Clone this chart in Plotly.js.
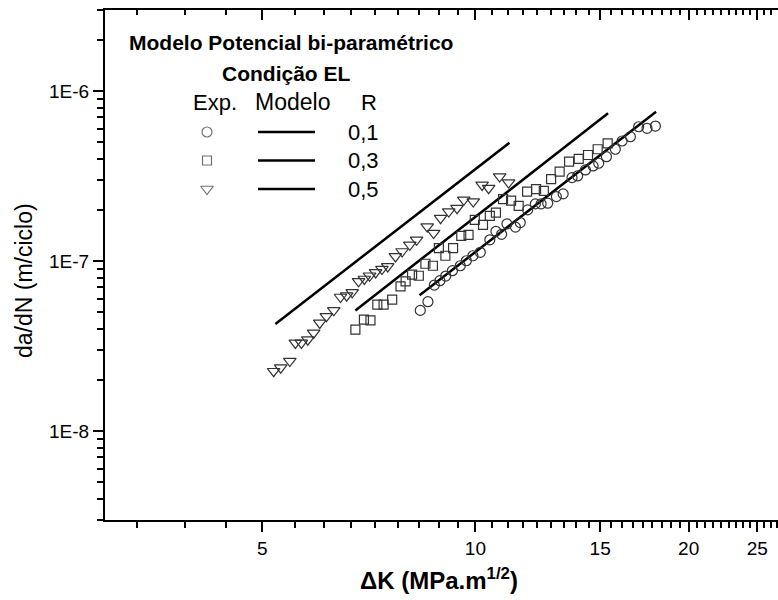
<!DOCTYPE html>
<html><head><meta charset="utf-8">
<script src="https://cdn.plot.ly/plotly-3.0.1.min.js"></script>
<style>html,body{margin:0;padding:0;background:#fff}#chart{width:778px;height:600px}</style>
</head><body><div id="chart"></div>
<script>
// ---------- data ----------
const r01_dK   = [8.36, 8.57, 8.75, 8.91, 9.08, 9.28, 9.52, 9.71, 9.92, 10.16, 10.48, 10.69, 10.89, 11.08, 11.39, 11.57, 11.85, 12.15, 12.38, 12.65, 13.01, 13.30, 13.69, 13.94, 14.30, 14.66, 14.93, 15.31, 15.76, 16.11, 16.55, 17.00, 17.47, 17.95];
const r01_dadN = [5.13e-8, 5.77e-8, 7.23e-8, 7.67e-8, 8.17e-8, 8.78e-8, 9.39e-8, 1.005e-7, 1.075e-7, 1.127e-7, 1.335e-7, 1.497e-7, 1.438e-7, 1.656e-7, 1.585e-7, 1.686e-7, 2.001e-7, 2.171e-7, 2.171e-7, 2.192e-7, 2.396e-7, 2.485e-7, 3.097e-7, 3.170e-7, 3.437e-7, 3.628e-7, 3.764e-7, 4.115e-7, 4.55e-7, 5.087e-7, 5.391e-7, 6.17e-7, 6.04e-7, 6.23e-7];

const r03_dK   = [6.77, 6.96, 7.11, 7.27, 7.42, 7.63, 7.84, 7.97, 8.14, 8.32, 8.50, 8.71, 8.88, 9.07, 9.30, 9.55, 9.78, 9.98, 10.25, 10.48, 10.69, 10.94, 11.23, 11.51, 11.83, 12.18, 12.49, 12.79, 13.15, 13.56, 13.99, 14.42, 14.88, 15.37];
const r03_dadN = [3.95e-8, 4.53e-8, 4.48e-8, 5.54e-8, 5.54e-8, 5.93e-8, 7.10e-8, 7.60e-8, 8.32e-8, 8.20e-8, 9.65e-8, 9.39e-8, 1.193e-7, 1.075e-7, 1.193e-7, 1.409e-7, 1.428e-7, 1.748e-7, 1.634e-7, 1.846e-7, 1.930e-7, 2.314e-7, 2.270e-7, 2.113e-7, 2.564e-7, 2.649e-7, 2.588e-7, 3.032e-7, 3.359e-7, 3.846e-7, 3.99e-7, 4.21e-7, 4.55e-7, 4.93e-7];

const r05_dK   = [5.19, 5.31, 5.47, 5.57, 5.68, 5.80, 5.91, 6.03, 6.16, 6.31, 6.45, 6.58, 6.70, 6.84, 6.97, 7.09, 7.23, 7.38, 7.52, 7.71, 7.88, 8.08, 8.26, 8.55, 8.73, 8.93, 9.17, 9.42, 9.63, 9.93, 10.22, 10.44, 10.82, 11.14];
const r05_dadN = [2.25e-8, 2.36e-8, 2.58e-8, 3.30e-8, 3.30e-8, 3.45e-8, 3.78e-8, 4.33e-8, 4.73e-8, 5.13e-8, 6.15e-8, 6.26e-8, 6.55e-8, 7.60e-8, 7.85e-8, 8.20e-8, 8.58e-8, 8.98e-8, 9.30e-8, 1.065e-7, 1.139e-7, 1.247e-7, 1.335e-7, 1.597e-7, 1.461e-7, 1.789e-7, 1.956e-7, 2.048e-7, 2.292e-7, 2.240e-7, 2.806e-7, 2.684e-7, 3.14e-7, 2.895e-7];

// model lines (power law, end points)
const model01_dK = [8.34, 17.99];  const model01_dadN = [6.29e-8, 7.56e-7];
const model03_dK = [6.77, 15.39];  const model03_dadN = [5.13e-8, 7.40e-7];
const model05_dK = [5.22, 11.17];  const model05_dadN = [4.27e-8, 4.97e-7];

const xTickVals = [5, 10, 15, 20, 25];
const xTickText = ['5', '10', '15', '20', '25'];
const yTickVals = [1e-8, 1e-7, 1e-6];
const yTickText = ['1E-8', '1E-7', '1E-6'];

const legendTitle1 = 'Modelo Potencial bi-paramétrico';
const legendTitle2 = 'Condição EL';
const legendHeads = ['Exp.', 'Modelo', 'R'];
const legendR = ['0,1', '0,3', '0,5'];
const legendSymbols = ['circle-open', 'square-open', 'triangle-down-open'];
const legendSizes = [10, 9, 11];

// ---------- layout geometry ----------
const W = 778, H = 600, ML = 105, MR = 0, MT = 10, MB = 80;
const PW = W - ML - MR, PH = H - MT - MB;
const px = v => (v - ML) / PW;
const py = v => (H - MB - v) / PH;
const FONT = 'Liberation Sans, Arial, Helvetica, sans-serif';
const xMin = 3, xMax = 26.74, yMin = 3e-9, yMax = 3e-6;
const xRange = [Math.log10(xMin), Math.log10(xMax)];
const yRange = [Math.log10(yMin), Math.log10(yMax)];

// minor ticks (Origin style: 8 linear minors between majors of step 5)
const xMinor = [];
for (let k = 0; k < 6; k++) for (let j = 1; j <= 8; j++) {
  const v = 5 * k + 5 * j / 9;
  if (v >= xMin && v <= xMax) xMinor.push(v);
}
const yMinor = [];
for (let e = -9; e <= -6; e++) for (let d = 2; d <= 9; d++) {
  const v = d * Math.pow(10, e);
  if (v >= yMin * 0.999 && v <= yMax * 1.001) yMinor.push(v);
}

const mk = (sym, size) => ({symbol: sym, size: size, color: '#333', line: {width: 1.2, color: '#333'}});
const lineStyle = {color: '#000', width: 2.5};

const traces = [
  {x: model01_dK, y: model01_dadN, mode: 'lines', line: lineStyle, hoverinfo: 'skip'},
  {x: model03_dK, y: model03_dadN, mode: 'lines', line: lineStyle, hoverinfo: 'skip'},
  {x: model05_dK, y: model05_dadN, mode: 'lines', line: lineStyle, hoverinfo: 'skip'},
  {x: r01_dK, y: r01_dadN, mode: 'markers', marker: mk('circle-open', 10)},
  {x: r03_dK, y: r03_dadN, mode: 'markers', marker: mk('square-open', 9)},
  {x: r05_dK, y: r05_dadN, mode: 'markers', marker: mk('triangle-down-open', 11)},
  // invisible trace so the top (mirror) axis is drawn
  {x: model01_dK, y: model01_dadN, xaxis: 'x2', yaxis: 'y', mode: 'lines', opacity: 0, hoverinfo: 'skip'},
  // legend symbols
  {x: legendR.map(() => px(207)), y: legendR.map((_, i) => py(132 + 28.5 * i)), xaxis: 'x3', yaxis: 'y3',
   mode: 'markers', marker: {symbol: legendSymbols, size: legendSizes, color: '#333', line: {width: 1.2, color: '#333'}}, hoverinfo: 'skip'}
];

const annotations = [];
const ann = (text, x, y, size, anchor, extra) => Object.assign({
  text: text, x: px(x), y: py(y), xref: 'paper', yref: 'paper', showarrow: false,
  xanchor: anchor, yanchor: 'middle', font: {family: FONT, size: size, color: '#000'}
}, extra || {});
annotations.push(ann('<b>' + legendTitle1 + '</b>', 127, 42, 21, 'left'));
annotations.push(ann('<b>' + legendTitle2 + '</b>', 286, 73, 21, 'center'));
annotations.push(ann(legendHeads[0], 215, 102, 22, 'center'));
annotations.push(ann(legendHeads[1], 292, 102, 23, 'center'));
annotations.push(ann(legendHeads[2], 369, 102, 22, 'center'));
legendR.forEach((t, i) => annotations.push(ann(t, 346, 132 + 28.5 * i, 22, 'left')));
annotations.push(ann('<b>ΔK (MPa.m<sup>1/2</sup>)</b>', 439, 579, 24, 'center'));
annotations.push(ann('da/dN (m/ciclo)', 24, 281, 23, 'center', {textangle: -90}));

const shapes = legendR.map((_, i) => ({
  type: 'line', xref: 'paper', yref: 'paper', x0: px(258), x1: px(315),
  y0: py(132 + 28.5 * i), y1: py(132 + 28.5 * i), line: {color: '#000', width: 2.5}
}));

const axBase = {
  type: 'log', showgrid: false, zeroline: false, showline: true, linecolor: '#000', linewidth: 2,
  tickcolor: '#000', tickwidth: 2, ticklen: 10, tickmode: 'array',
  tickfont: {family: FONT, size: 19, color: '#000'}
};

const layout = {
  width: W, height: H, margin: {l: ML, r: MR, t: MT, b: MB, pad: 0},
  paper_bgcolor: '#fff', plot_bgcolor: '#fff', showlegend: false,
  font: {family: FONT, color: '#000'},
  xaxis: Object.assign({}, axBase, {range: xRange, tickvals: xTickVals, ticktext: xTickText, ticks: 'outside',
    minor: {tickmode: 'array', tickvals: xMinor, ticks: 'outside', ticklen: 6, tickwidth: 2, tickcolor: '#000', showgrid: false}}),
  xaxis2: Object.assign({}, axBase, {range: xRange, tickvals: xTickVals, ticktext: xTickText, ticks: 'inside',
    overlaying: 'x', side: 'top', anchor: 'y', showticklabels: false,
    minor: {tickmode: 'array', tickvals: xMinor, ticks: 'inside', ticklen: 5, tickwidth: 2, tickcolor: '#000', showgrid: false}}),
  yaxis: Object.assign({}, axBase, {range: yRange, tickvals: yTickVals, ticktext: yTickText, ticks: 'outside',
    minor: {tickmode: 'array', tickvals: yMinor, ticks: 'outside', ticklen: 6, tickwidth: 2, tickcolor: '#000', showgrid: false}}),
  xaxis3: {domain: [0, 1], range: [0, 1], visible: false, overlaying: 'x', anchor: 'y3', fixedrange: true},
  yaxis3: {domain: [0, 1], range: [0, 1], visible: false, overlaying: 'y', anchor: 'x3', fixedrange: true},
  annotations: annotations,
  shapes: shapes
};

Plotly.newPlot('chart', traces, layout, {displayModeBar: false, staticPlot: true});
</script></body></html>
